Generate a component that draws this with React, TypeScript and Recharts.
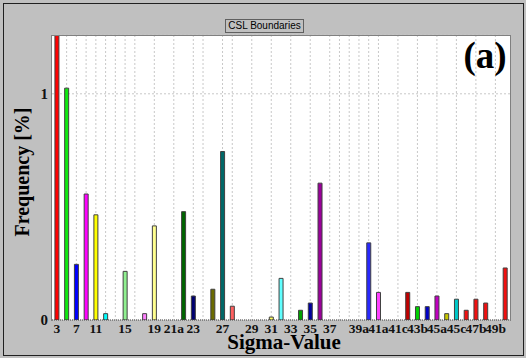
import { BarChart, Bar, XAxis, YAxis, CartesianGrid, Cell } from 'recharts';

// sigma categories, in the order the histogram lists them
const sigmas = [
  '3', '5', '7', '9', '11', '13a', '13b', '15', '17a', '17b', '19a', '19b',
  '21a', '21b', '23', '25a', '25b', '27a', '27b', '29a', '29b', '31a', '31b',
  '33a', '33b', '33c', '35a', '35b', '37a', '37b', '37c', '39a', '39b',
  '41a', '41b', '41c', '43a', '43b', '43c', '45a', '45b', '45c', '47a', '47b',
  '49a', '49b', '49c',
];

// frequency [%] per sigma (sigma 3 runs off the top of the plot)
const frequencies = [
  1.5, 1.025, 0.246, 0.557, 0.465, 0.028, 0, 0.215, 0, 0.028, 0.416, 0,
  0, 0.479, 0.106, 0, 0.136, 0.745, 0.061, 0, 0, 0, 0.013,
  0.184, 0, 0.043, 0.075, 0.605, 0, 0, 0, 0, 0.341,
  0.122, 0, 0, 0.122, 0.059, 0.059, 0.106, 0.028, 0.092, 0.043, 0.092,
  0.075, 0, 0.23,
];

const barColors = [
  '#ff0000', '#10e810', '#0000ff', '#ff00ff', '#ffff00', '#00ffff', '#ffffff', '#90f090', '#ffffff', '#ff80ff', '#ffff90', '#ffffff',
  '#ffffff', '#006400', '#000070', '#ffffff', '#6b6b00', '#006868', '#ff6060', '#ffffff', '#ffffff', '#ffffff', '#ffff60',
  '#60ffff', '#ffffff', '#00a000', '#0000a0', '#9a009a', '#ffffff', '#ffffff', '#ffffff', '#ffffff', '#2828ff',
  '#ff40ff', '#ffffff', '#ffffff', '#c00000', '#00d000', '#0000c8', '#c000c0', '#c8c800', '#00c8c8', '#f01010', '#f01010',
  '#f01010', '#ffffff', '#f01010',
];

// tick text shown under the axis
const tickText: Record<string, string> = {
  '3': '3', '7': '7', '11': '11', '15': '15', '19a': '19', '21a': '21a', '23': '23',
  '27a': '27', '29b': '29', '31b': '31', '33b': '33', '35a': '35', '37a': '37',
  '39a': '39a', '41a': '41a', '41c': '41c', '43b': '43b', '45a': '45a', '45c': '45c',
  '47b': '47b', '49b': '49b',
};

// categories that carry a dotted vertical grid line
const gridSigmas = [
  '3', '5', '7', '9', '11', '13a', '13b', '15', '17a', '19a', '21a', '23', '25a',
  '27a', '27b', '29b', '31b', '33b', '35a', '37a', '37b', '37c', '39a', '39b',
  '41a', '41c', '43b', '45a', '45c', '47b', '49b',
];

const data = sigmas.map((s, i) => ({ sigma: s, freq: frequencies[i] }));

const serif = '"Liberation Serif", "Times New Roman", serif';

// grid x positions: band centres of the chosen categories
function gridXs({ xAxis, offset }: any) {
  const sc = xAxis && xAxis.scale;
  let xs: number[] = [];
  try {
    if (sc) {
      const bw = typeof sc.bandwidth === 'function' ? sc.bandwidth() : 0;
      const at = (s: string) =>
        typeof sc === 'function' ? sc(s) : typeof sc.map === 'function' ? sc.map(s) : NaN;
      xs = gridSigmas.map((s) => at(s) + bw / 2);
    }
  } catch (e) {
    xs = [];
  }
  if (!xs.length || xs.some((v) => !Number.isFinite(v))) {
    const step = offset.width / sigmas.length;
    xs = gridSigmas.map((s) => offset.left + (sigmas.indexOf(s) + 0.5) * step);
  }
  return xs;
}

function SigmaTick({ x, y, payload }: any) {
  const label = tickText[payload.value];
  if (!label) return <g />;
  return (
    <text x={x} y={y} dy="0.71em" textAnchor="middle" fontFamily={serif} fontSize={13.5} fontWeight="bold" fill="#111">
      {label}
    </text>
  );
}

export default function App() {
  return (
    <div style={{ position: 'absolute', left: 0, top: 0, width: 526, height: 358, background: '#c0c0c0', overflow: 'hidden' }}>
      <div style={{ position: 'absolute', left: 3, top: 3, width: 519, height: 351, border: '1px solid #202020' }} />
      <div
        style={{
          position: 'absolute', left: 225, top: 19, width: 77, height: 12, border: '1px solid #606060', whiteSpace: 'nowrap',
          fontFamily: '"Liberation Sans", Arial, sans-serif', fontSize: 10, lineHeight: '12px', textAlign: 'center', color: '#000',
        }}
      >
        CSL Boundaries
      </div>
      <div style={{ position: 'absolute', left: 0, top: 0 }}>
        <BarChart width={526} height={358} data={data} margin={{ top: 35, right: 16, bottom: 0, left: 0 }} barCategoryGap="30%">
          <CartesianGrid
            fill="#ffffff"
            stroke="#c8c8c8"
            strokeDasharray="2 2"
            verticalCoordinatesGenerator={gridXs}
          />
          <XAxis
            dataKey="sigma"
            interval={0}
            height={38}
            tickLine={false}
            tickSize={0}
            tickMargin={3}
            axisLine={{ stroke: '#404040', strokeDasharray: '1 1' }}
            tick={<SigmaTick />}
          />
          <YAxis
            width={52}
            domain={[0, 1.26]}
            ticks={[0, 1]}
            allowDataOverflow
            axisLine={false}
            tickLine={false}
            tickSize={0}
            tickMargin={4}
            tick={{ fontFamily: serif, fontSize: 15, fontWeight: 'bold', fill: '#111' }}
          />
          <Bar dataKey="freq" stroke="#404040" strokeWidth={1} isAnimationActive={false}>
            {data.map((d, i) => (
              <Cell key={d.sigma} fill={barColors[i]} />
            ))}
          </Bar>
        </BarChart>
      </div>
      <div style={{ position: 'absolute', left: 51, top: 35, width: 458, height: 285, borderTop: '1px solid #808080', borderLeft: '1px solid #808080', borderRight: '1px solid #808080', pointerEvents: 'none' }} />
      <div style={{ position: 'absolute', left: 440, top: 36, width: 90, textAlign: 'center', fontFamily: serif, fontWeight: 'bold', fontSize: 37, lineHeight: '40px', color: '#000' }}>
        (a)
      </div>
      <div style={{ position: 'absolute', left: 184, top: 336, width: 200, height: 12, textAlign: 'center', fontFamily: serif, fontWeight: 'bold', fontSize: 21, lineHeight: '12px', color: '#000', whiteSpace: 'nowrap' }}>
        Sigma-Value
      </div>
      <div
        style={{
          position: 'absolute', left: 22 - 100, top: 172 - 12, width: 200, height: 24, lineHeight: '24px', textAlign: 'center',
          transform: 'rotate(-90deg)', fontFamily: serif, fontWeight: 'bold', fontSize: 20, color: '#000',
        }}
      >
        Frequency [%]
      </div>
    </div>
  );
}
